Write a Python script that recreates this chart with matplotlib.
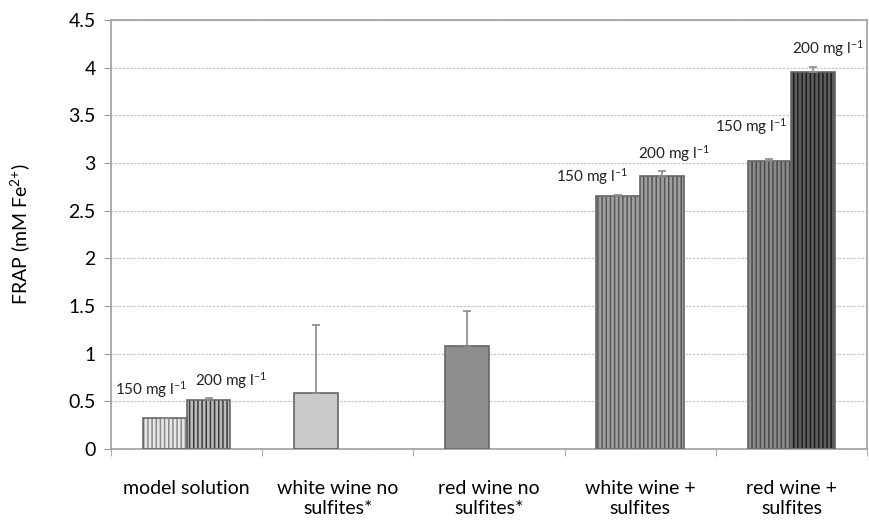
"""FRAP of model solution and wines with and without added sulfites."""
import numpy as np
import matplotlib.pyplot as plt

plt.rcParams['font.family'] = ['Lato', 'DejaVu Sans']
plt.rcParams['mathtext.fontset'] = 'custom'
plt.rcParams['mathtext.rm'] = 'Lato'
plt.rcParams['mathtext.it'] = 'Lato'
plt.rcParams['hatch.linewidth'] = 1.1

categories = ['model solution', 'white wine no\nsulfites*', 'red wine no\nsulfites*',
              'white wine +\nsulfites', 'red wine +\nsulfites']
series = ['150 mg l$^{-1}$', '200 mg l$^{-1}$']

# first slot: 150 mg/l (or the unsupplemented wine), second slot: 200 mg/l
frap_150 = [0.32, 0.59, 1.08, 2.65, 3.02]
frap_200 = [0.51, None, None, 2.86, 3.95]
err_150 = [0.01, 0.71, 0.37, 0.01, 0.02]
err_200 = [0.02, None, None, 0.06, 0.06]

# (face, stripe, hatch) per bar
style_150 = [('#e6e6e6', '#8a8a8a', '||||'), ('#cacaca', '#6e6e6e', None),
             ('#8e8e8e', '#5e5e5e', None), ('#a0a0a0', '#5a5a5a', '||||'),
             ('#8c8c8c', '#4a4a4a', '||||')]
style_200 = [('#bcbcbc', '#3a3a3a', '||||'), None, None,
             ('#a0a0a0', '#555555', '||||'), ('#5c5c5c', '#1e1e1e', '||||')]

# label offsets (dx, dy) relative to the top of each supplemented bar
label_off_150 = [(-0.09, 0.30), None, None, (-0.17, 0.21), (-0.12, 0.36)]
label_off_200 = [(0.15, 0.21), None, None, (0.08, 0.24), (0.10, 0.25)]

width = 0.29
x = np.arange(len(categories))

fig = plt.figure(figsize=(8.69, 5.21), dpi=100)
ax = fig.add_axes([111 / 869, 72 / 521, 756 / 869, 429 / 521])


def draw_bar(xpos, val, err, style):
    face, stripe, hatch = style
    ax.bar(xpos, val, width, color=face, edgecolor=stripe, hatch=hatch,
           linewidth=0, zorder=2)
    ax.bar(xpos, val, width, fill=False, edgecolor='#666666', linewidth=1.2,
           zorder=3)
    ax.errorbar(xpos, val, yerr=[[0], [err]], fmt='none', ecolor='#8a8a8a',
                elinewidth=1.2, capsize=3, capthick=1.2, zorder=4)


for i in range(len(categories)):
    draw_bar(x[i] - width / 2, frap_150[i], err_150[i], style_150[i])
    if frap_200[i] is not None:
        draw_bar(x[i] + width / 2, frap_200[i], err_200[i], style_200[i])
    if label_off_150[i] is not None:
        dx, dy = label_off_150[i]
        ax.text(x[i] - width / 2 + dx, frap_150[i] + dy, series[0],
                ha='center', va='center', fontsize=11, color='#222222')
    if label_off_200[i] is not None:
        dx, dy = label_off_200[i]
        ax.text(x[i] + width / 2 + dx, frap_200[i] + dy, series[1],
                ha='center', va='center', fontsize=11, color='#222222')

ax.set_xlim(-0.5, len(categories) - 0.5)
ax.set_ylim(0, 4.5)
ax.set_yticks(np.arange(0, 4.51, 0.5))
ax.set_yticklabels(['0', '0.5', '1', '1.5', '2', '2.5', '3', '3.5', '4', '4.5'],
                   fontsize=14)
ax.yaxis.grid(True, linestyle=(0, (2, 1)), color='#c8c8c8', linewidth=0.9,
              zorder=0)
ax.set_axisbelow(True)

# category labels centred, tick marks on category boundaries
ax.set_xticks(x)
ax.set_xticklabels(categories, fontsize=14, linespacing=1.25)
ax.tick_params(axis='x', length=0, pad=22)
ax.set_xticks(np.arange(-0.5, len(categories)), minor=True)
ax.tick_params(axis='x', which='minor', length=5, color='#999999',
               direction='out')
ax.tick_params(axis='y', length=5, color='#999999', direction='out', pad=6)

for s in ax.spines.values():
    s.set_color('#a0a0a0')
    s.set_linewidth(1.2)

ax.set_ylabel('FRAP (mM Fe$^{2{+}}$)', fontsize=14, labelpad=26)

fig.savefig('out.png', dpi=100)
